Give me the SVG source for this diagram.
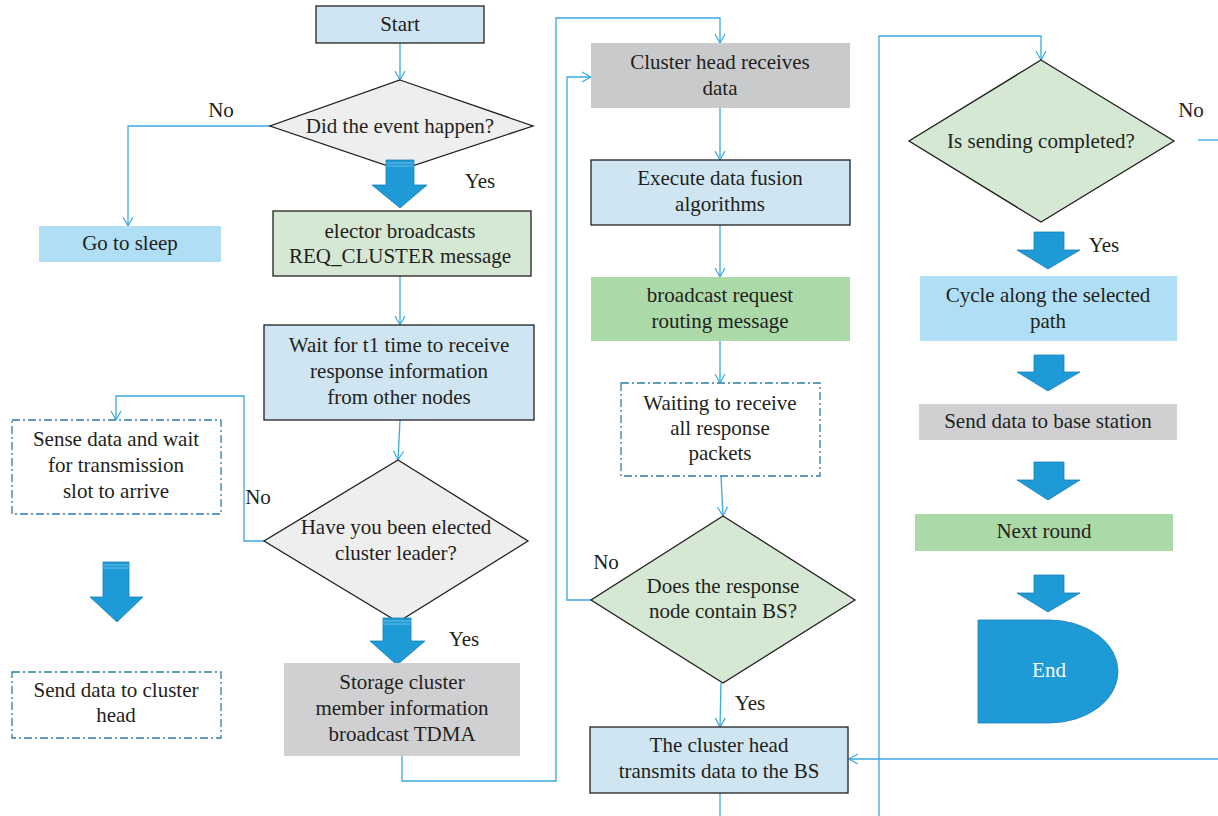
<svg xmlns="http://www.w3.org/2000/svg" width="1218" height="816" viewBox="0 0 1218 816">
<defs>
<style>
text{font-family:"Liberation Serif","DejaVu Serif",serif;font-size:21px;fill:#231f20;text-anchor:middle}
.bx{stroke:#231f20;stroke-width:1.3}
.blue{fill:#cfe5f2}
.green{fill:#d5e8d4}
.gray{fill:#eeeeee}
.dash{fill:#fff;stroke:#2e7ca8;stroke-width:1.3;stroke-dasharray:8 3 2 3}
.c{fill:none;stroke:#3aa8e0;stroke-width:1.3}
.ba{fill:#1e9bd6;stroke:#1a7fb5;stroke-width:0.8}
.st{stroke:#7cc3e8;stroke-width:0.8}
</style>
<marker id="ar" markerWidth="12" markerHeight="12" refX="10" refY="6" orient="auto" markerUnits="userSpaceOnUse">
<path d="M1,1 L10,6 L1,11" fill="none" stroke="#3aa8e0" stroke-width="1.2"/>
</marker>
</defs>
<rect width="1218" height="816" fill="#fff"/>

<g id="connectors">
<path class="c" d="M400,43 V80" marker-end="url(#ar)"/>
<path class="c" d="M270,126 H128 V226" marker-end="url(#ar)"/>
<path class="c" d="M400,276 V325" marker-end="url(#ar)"/>
<path class="c" d="M400,420 L398,460" marker-end="url(#ar)"/>
<path class="c" d="M264,541 H244 V396 H116 V420" marker-end="url(#ar)"/>
<path class="c" d="M402,756 V781 H556 V18 H720 V43" marker-end="url(#ar)"/>
<path class="c" d="M720,108 V160" marker-end="url(#ar)"/>
<path class="c" d="M720,225 V277" marker-end="url(#ar)"/>
<path class="c" d="M720,341 V383" marker-end="url(#ar)"/>
<path class="c" d="M721,476 L723,516" marker-end="url(#ar)"/>
<path class="c" d="M591,600 H567 V77 H591" marker-end="url(#ar)"/>
<path class="c" d="M721,683 L720,727" marker-end="url(#ar)"/>
<path class="c" d="M720,793 V816"/>
<path class="c" d="M1218,759 H849" marker-end="url(#ar)"/>
<path class="c" d="M879,816 V36 H1041 V60" marker-end="url(#ar)"/>
<path class="c" d="M1198,140 H1218"/>
</g>

<g id="labels">
<text x="221" y="117">No</text>
<text x="480" y="188">Yes</text>
<text x="258" y="504">No</text>
<text x="464" y="646">Yes</text>
<text x="606" y="569">No</text>
<text x="750" y="710">Yes</text>
<text x="1191" y="117">No</text>
<text x="1104" y="252">Yes</text>
</g>

<g id="start"><rect class="bx blue" x="316" y="6" width="168" height="37"/><text x="400" y="31">Start</text></g>
<g id="event"><polygon class="bx gray" points="400,80 533,126 400,170 270,126"/><text x="400" y="133">Did the event happen?</text></g>
<g id="sleep"><rect fill="#b0dff5" x="39" y="226" width="182" height="36"/><text x="130" y="250">Go to sleep</text></g>
<g id="barrow1"><path class="ba" d="M386,160 H414 V185 H427 L400,208 L372,185 H386 Z"/><path class="st" d="M386,163 H414 M386,166 H414"/></g>
<g id="elector"><rect class="bx green" x="273" y="211" width="258" height="65"/><text x="400" y="238">elector broadcasts</text><text x="400" y="263">REQ_CLUSTER message</text></g>
<g id="wait"><rect class="bx blue" x="264" y="325" width="270" height="95"/><text x="399" y="352">Wait for t1 time to receive</text><text x="399" y="378">response information</text><text x="399" y="404">from other nodes</text></g>
<g id="elected"><polygon class="bx gray" points="398,460 528,541 398,622 264,541"/><text x="396" y="534">Have you been elected</text><text x="396" y="560">cluster leader?</text></g>
<g id="sense"><rect class="dash" x="12" y="420" width="209" height="94"/><text x="116" y="446">Sense data and wait</text><text x="116" y="472">for transmission</text><text x="116" y="498">slot to arrive</text></g>
<g id="barrow2"><path class="ba" d="M103,562 H129 V597 H143 L117,622 L90,597 H103 Z"/><path class="st" d="M103,565 H129 M103,568 H129"/></g>
<g id="senddata"><rect class="dash" x="12" y="672" width="209" height="66"/><text x="116" y="697">Send data to cluster</text><text x="116" y="722">head</text></g>
<g id="barrow3"><path class="ba" d="M383,618 H411 V641 H425 L397,665 L370,641 H383 Z"/><path class="st" d="M383,621 H411 M383,624 H411"/></g>
<g id="storage"><rect fill="#d0d0d2" x="284" y="663" width="236" height="93"/><text x="402" y="689">Storage cluster</text><text x="402" y="715">member information</text><text x="402" y="741">broadcast TDMA</text></g>

<g id="chreceives"><rect fill="#c9cacc" x="591" y="43" width="259" height="65"/><text x="720" y="69">Cluster head receives</text><text x="720" y="95">data</text></g>
<g id="fusion"><rect class="bx blue" x="591" y="160" width="259" height="65"/><text x="720" y="185">Execute data fusion</text><text x="720" y="211">algorithms</text></g>
<g id="broadcast"><rect fill="#acd9a8" x="591" y="277" width="259" height="64"/><text x="720" y="302">broadcast request</text><text x="720" y="328">routing message</text></g>
<g id="waiting"><rect class="dash" x="621" y="383" width="199" height="93"/><text x="720" y="410">Waiting to receive</text><text x="720" y="435">all response</text><text x="720" y="460">packets</text></g>
<g id="containbs"><polygon class="bx green" points="723,516 855,600 723,683 591,600"/><text x="723" y="593">Does the response</text><text x="723" y="618">node contain BS?</text></g>
<g id="transmit"><rect class="bx blue" x="590" y="727" width="258" height="66"/><text x="719" y="752">The cluster head</text><text x="719" y="778">transmits data to the BS</text></g>

<g id="completed"><polygon class="bx green" points="1041,60 1174,141 1041,222 909,141"/><text x="1041" y="148">Is sending completed?</text></g>
<g id="barrow4"><path class="ba" d="M1034,232 H1064 V250 H1080 L1048,269 L1017,250 H1034 Z"/></g>
<g id="cycle"><rect fill="#b0dff5" x="920" y="276" width="257" height="65"/><text x="1048" y="302">Cycle along the selected</text><text x="1048" y="328">path</text></g>
<g id="barrow5"><path class="ba" d="M1034,355 H1064 V372 H1080 L1048,391 L1017,372 H1034 Z"/></g>
<g id="basestation"><rect fill="#d0d0d2" x="919" y="404" width="258" height="36"/><text x="1048" y="428">Send data to base station</text></g>
<g id="barrow6"><path class="ba" d="M1034,462 H1064 V480 H1080 L1048,500 L1017,480 H1034 Z"/></g>
<g id="nextround"><rect fill="#acd9a8" x="915" y="514" width="258" height="37"/><text x="1044" y="538">Next round</text></g>
<g id="barrow7"><path class="ba" d="M1034,575 H1064 V593 H1080 L1048,612 L1017,593 H1034 Z"/></g>
<g id="end"><path class="ba" d="M978,620 H1049 A69,51.5 0 0 1 1049,723 H978 Z"/><text x="1049" y="677" style="fill:#fff">End</text></g>
</svg>
